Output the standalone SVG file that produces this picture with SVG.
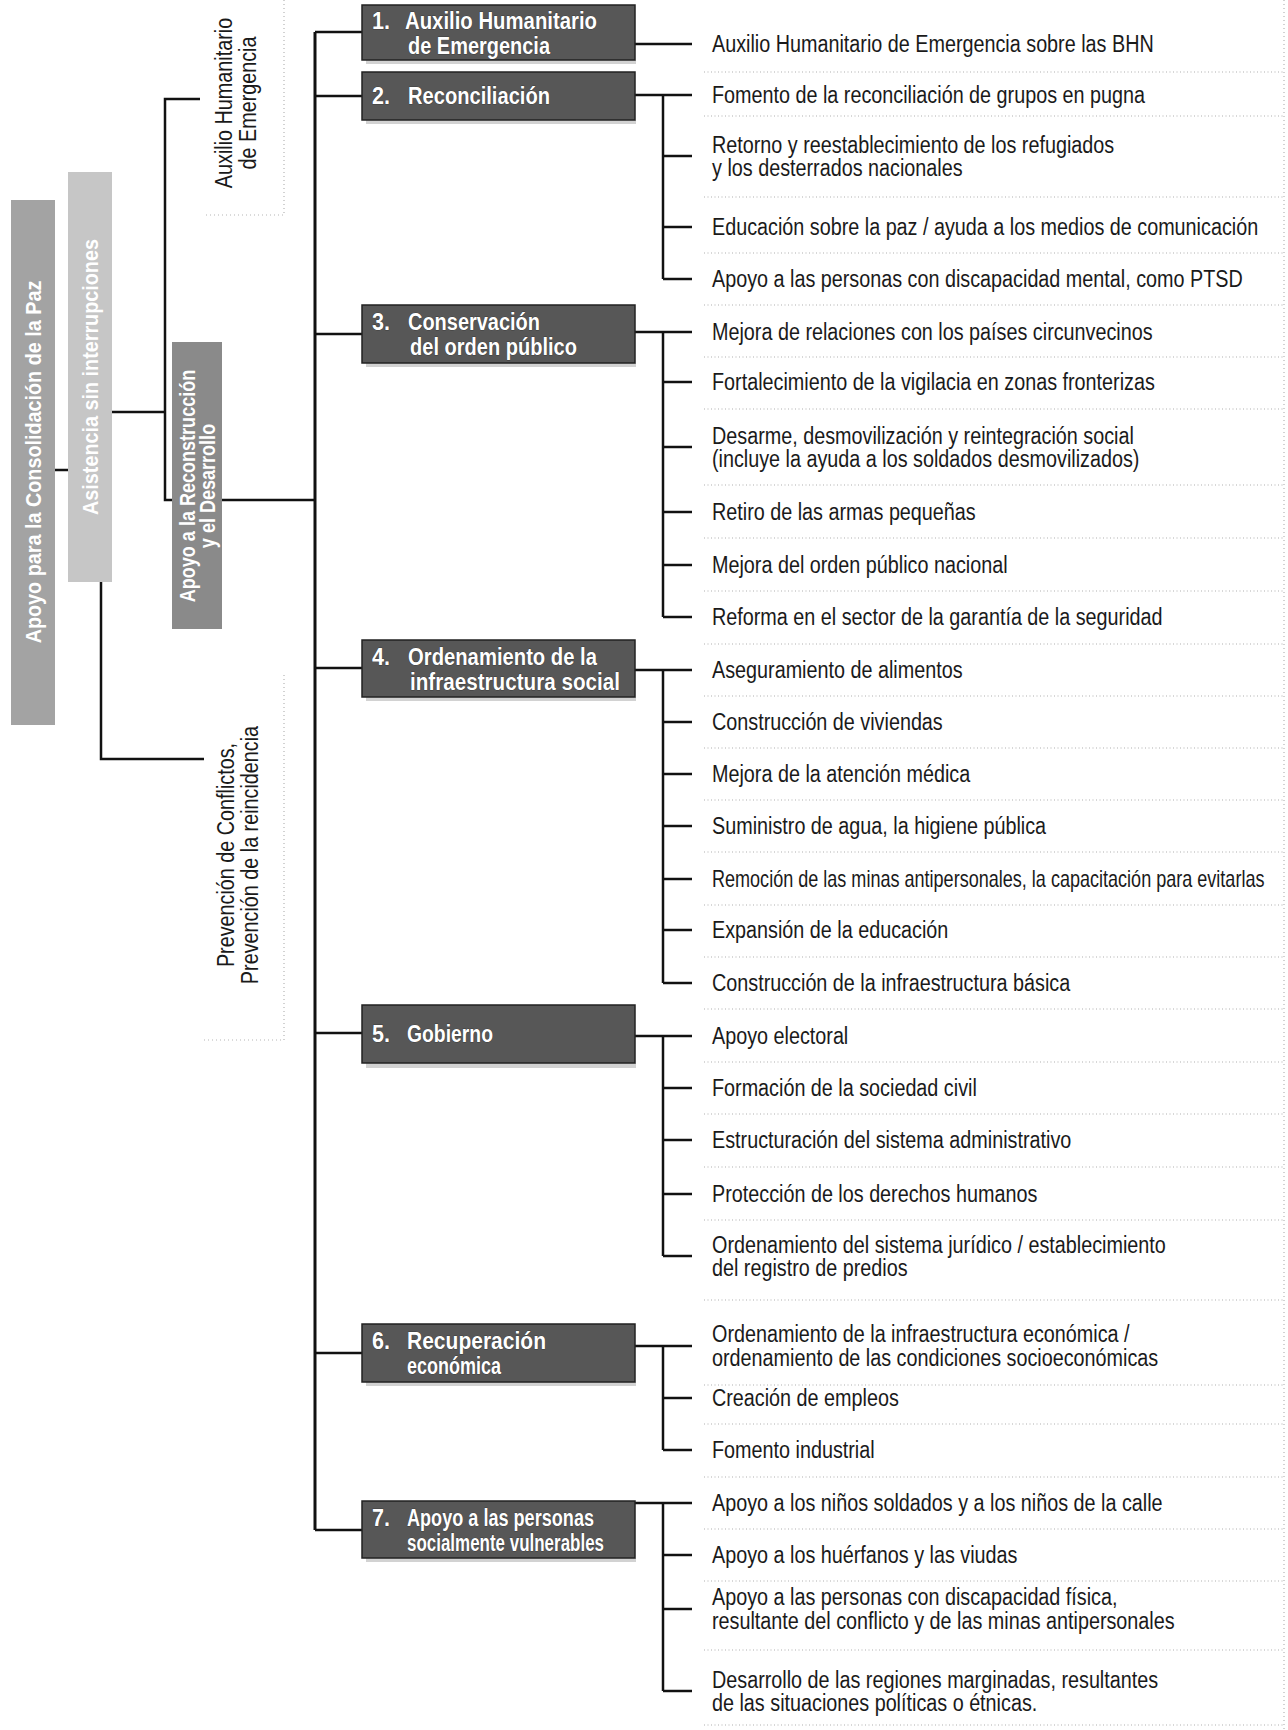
<svg xmlns="http://www.w3.org/2000/svg" width="1288" height="1730" viewBox="0 0 1288 1730">
<style>
.ln{stroke:#111;stroke-width:2.5;fill:none}
.sep{stroke:#b0b0b0;stroke-width:1.2;stroke-dasharray:1 2.5;fill:none}
.dot{stroke:#b5b5b5;stroke-width:1.2;stroke-dasharray:1 3;fill:none}
.bx{fill:#575757;stroke:#222;stroke-width:1.5}
.sh{fill:#d2d2d2}
.ht{font-family:"Liberation Sans",Arial,sans-serif;font-weight:bold;font-size:23px;fill:#fff;stroke:#222;stroke-width:0.6;paint-order:stroke}
.it{font-family:"Liberation Sans",Arial,sans-serif;font-size:23px;fill:#1a1a1a}
.gt{font-family:"Liberation Sans",Arial,sans-serif;font-weight:bold;font-size:22px;fill:#fff;text-anchor:middle}
</style>

<g id="page-marks">
<line class="dot" x1="1284" y1="0" x2="1284" y2="1730"/>
<line class="sep" x1="704" y1="72" x2="1284" y2="72"/>
<line class="sep" x1="704" y1="116" x2="1284" y2="116"/>
<line class="sep" x1="704" y1="197" x2="1284" y2="197"/>
<line class="sep" x1="704" y1="253" x2="1284" y2="253"/>
<line class="sep" x1="704" y1="305" x2="1284" y2="305"/>
<line class="sep" x1="704" y1="357" x2="1284" y2="357"/>
<line class="sep" x1="704" y1="409" x2="1284" y2="409"/>
<line class="sep" x1="704" y1="485" x2="1284" y2="485"/>
<line class="sep" x1="704" y1="538" x2="1284" y2="538"/>
<line class="sep" x1="704" y1="591" x2="1284" y2="591"/>
<line class="sep" x1="704" y1="644" x2="1284" y2="644"/>
<line class="sep" x1="704" y1="696" x2="1284" y2="696"/>
<line class="sep" x1="704" y1="748" x2="1284" y2="748"/>
<line class="sep" x1="704" y1="800" x2="1284" y2="800"/>
<line class="sep" x1="704" y1="852" x2="1284" y2="852"/>
<line class="sep" x1="704" y1="905" x2="1284" y2="905"/>
<line class="sep" x1="704" y1="957" x2="1284" y2="957"/>
<line class="sep" x1="704" y1="1009" x2="1284" y2="1009"/>
<line class="sep" x1="704" y1="1062" x2="1284" y2="1062"/>
<line class="sep" x1="704" y1="1114" x2="1284" y2="1114"/>
<line class="sep" x1="704" y1="1167" x2="1284" y2="1167"/>
<line class="sep" x1="704" y1="1220" x2="1284" y2="1220"/>
<line class="sep" x1="704" y1="1300" x2="1284" y2="1300"/>
<line class="sep" x1="704" y1="1385" x2="1284" y2="1385"/>
<line class="sep" x1="704" y1="1424" x2="1284" y2="1424"/>
<line class="sep" x1="704" y1="1477" x2="1284" y2="1477"/>
<line class="sep" x1="704" y1="1529" x2="1284" y2="1529"/>
<line class="sep" x1="704" y1="1581" x2="1284" y2="1581"/>
<line class="sep" x1="704" y1="1650" x2="1284" y2="1650"/>
<line class="sep" x1="704" y1="1725" x2="1284" y2="1725"/>
<polyline class="dot" points="284,0 284,215 204,215"/>
<polyline class="dot" points="284,675 284,1040 204,1040"/>
</g>

<g id="connectors">
<line class="ln" x1="55" y1="470" x2="68" y2="470"/>
<line class="ln" x1="112" y1="412" x2="165" y2="412"/>
<polyline class="ln" points="200,99 165,99 165,500 172,500"/>
<line class="ln" x1="222" y1="500" x2="315" y2="500"/>
<polyline class="ln" points="101,582 101,759 204,759"/>
<line class="ln" x1="315" y1="32" x2="315" y2="1530" style="stroke-width:3"/>
<line class="ln" x1="315" y1="32" x2="362" y2="32"/>
<line class="ln" x1="315" y1="96" x2="362" y2="96"/>
<line class="ln" x1="315" y1="334" x2="362" y2="334"/>
<line class="ln" x1="315" y1="668" x2="362" y2="668"/>
<line class="ln" x1="315" y1="1033" x2="362" y2="1033"/>
<line class="ln" x1="315" y1="1353" x2="362" y2="1353"/>
<line class="ln" x1="315" y1="1530" x2="362" y2="1530"/>
<line class="ln" x1="635" y1="44" x2="692" y2="44"/>
<line class="ln" x1="635" y1="95" x2="692" y2="95"/>
<line class="ln" x1="663" y1="95" x2="663" y2="279"/>
<line class="ln" x1="663" y1="156" x2="692" y2="156"/>
<line class="ln" x1="663" y1="227" x2="692" y2="227"/>
<line class="ln" x1="663" y1="279" x2="692" y2="279"/>
<line class="ln" x1="635" y1="332" x2="692" y2="332"/>
<line class="ln" x1="663" y1="332" x2="663" y2="617"/>
<line class="ln" x1="663" y1="382" x2="692" y2="382"/>
<line class="ln" x1="663" y1="447" x2="692" y2="447"/>
<line class="ln" x1="663" y1="512" x2="692" y2="512"/>
<line class="ln" x1="663" y1="565" x2="692" y2="565"/>
<line class="ln" x1="663" y1="617" x2="692" y2="617"/>
<line class="ln" x1="635" y1="670" x2="692" y2="670"/>
<line class="ln" x1="663" y1="670" x2="663" y2="983"/>
<line class="ln" x1="663" y1="722" x2="692" y2="722"/>
<line class="ln" x1="663" y1="774" x2="692" y2="774"/>
<line class="ln" x1="663" y1="826" x2="692" y2="826"/>
<line class="ln" x1="663" y1="879" x2="692" y2="879"/>
<line class="ln" x1="663" y1="930" x2="692" y2="930"/>
<line class="ln" x1="663" y1="983" x2="692" y2="983"/>
<line class="ln" x1="635" y1="1036" x2="692" y2="1036"/>
<line class="ln" x1="663" y1="1036" x2="663" y2="1256"/>
<line class="ln" x1="663" y1="1088" x2="692" y2="1088"/>
<line class="ln" x1="663" y1="1140" x2="692" y2="1140"/>
<line class="ln" x1="663" y1="1194" x2="692" y2="1194"/>
<line class="ln" x1="663" y1="1256" x2="692" y2="1256"/>
<line class="ln" x1="635" y1="1346" x2="692" y2="1346"/>
<line class="ln" x1="663" y1="1346" x2="663" y2="1450"/>
<line class="ln" x1="663" y1="1398" x2="692" y2="1398"/>
<line class="ln" x1="663" y1="1450" x2="692" y2="1450"/>
<line class="ln" x1="635" y1="1503" x2="692" y2="1503"/>
<line class="ln" x1="663" y1="1503" x2="663" y2="1691"/>
<line class="ln" x1="663" y1="1555" x2="692" y2="1555"/>
<line class="ln" x1="663" y1="1609" x2="692" y2="1609"/>
<line class="ln" x1="663" y1="1691" x2="692" y2="1691"/>
</g>

<g id="root">
<rect x="11" y="200" width="44" height="525" fill="#a3a3a3"/>
<text class="gt" transform="translate(41,462) rotate(-90) scale(0.9,1)">Apoyo para la Consolidación de la Paz</text>
</g>
<g id="stage">
<rect x="68" y="172" width="44" height="410" fill="#c6c6c6"/>
<text class="gt" transform="translate(98,377) rotate(-90) scale(0.9,1)">Asistencia sin interrupciones</text>
</g>
<g id="cat-auxilio">
<text class="it" text-anchor="middle" transform="translate(232,103) rotate(-90) scale(0.86,1)">Auxilio Humanitario</text>
<text class="it" text-anchor="middle" transform="translate(256,103) rotate(-90) scale(0.86,1)">de Emergencia</text>
</g>
<g id="cat-reconstruccion">
<rect x="172" y="342" width="50" height="287" fill="#8a8a8a"/>
<text class="gt" transform="translate(195,486) rotate(-90) scale(0.82,1)">Apoyo a la Reconstrucción</text>
<text class="gt" transform="translate(215,486) rotate(-90) scale(0.82,1)">y el Desarrollo</text>
</g>
<g id="cat-prevencion">
<text class="it" text-anchor="middle" transform="translate(234,855) rotate(-90) scale(0.86,1)">Prevención de Conflictos,</text>
<text class="it" text-anchor="middle" transform="translate(258,855) rotate(-90) scale(0.86,1)">Prevención de la reincidencia</text>
</g>

<g id="box1">
<rect class="sh" x="366" y="60" width="270" height="4"/>
<rect class="bx" x="362" y="5" width="273" height="55"/>
<text class="ht" x="372" y="29" textLength="18" lengthAdjust="spacingAndGlyphs">1.</text>
<text class="ht" x="405" y="29" textLength="192" lengthAdjust="spacingAndGlyphs">Auxilio Humanitario</text>
<text class="ht" x="408" y="54" textLength="142" lengthAdjust="spacingAndGlyphs">de Emergencia</text>
</g>
<g id="box2">
<rect class="sh" x="366" y="120" width="270" height="4"/>
<rect class="bx" x="362" y="72" width="273" height="48"/>
<text class="ht" x="372" y="104" textLength="18" lengthAdjust="spacingAndGlyphs">2.</text>
<text class="ht" x="408" y="104" textLength="142" lengthAdjust="spacingAndGlyphs">Reconciliación</text>
</g>
<g id="box3">
<rect class="sh" x="366" y="363" width="270" height="4"/>
<rect class="bx" x="362" y="305" width="273" height="58"/>
<text class="ht" x="372" y="330" textLength="18" lengthAdjust="spacingAndGlyphs">3.</text>
<text class="ht" x="408" y="330" textLength="132" lengthAdjust="spacingAndGlyphs">Conservación</text>
<text class="ht" x="410" y="355" textLength="167" lengthAdjust="spacingAndGlyphs">del orden público</text>
</g>
<g id="box4">
<rect class="sh" x="366" y="697" width="270" height="4"/>
<rect class="bx" x="362" y="640" width="273" height="57"/>
<text class="ht" x="372" y="665" textLength="18" lengthAdjust="spacingAndGlyphs">4.</text>
<text class="ht" x="408" y="665" textLength="189" lengthAdjust="spacingAndGlyphs">Ordenamiento de la</text>
<text class="ht" x="410" y="690" textLength="210" lengthAdjust="spacingAndGlyphs">infraestructura social</text>
</g>
<g id="box5">
<rect class="sh" x="366" y="1063" width="270" height="5"/>
<rect class="bx" x="362" y="1005" width="273" height="58"/>
<text class="ht" x="372" y="1042" textLength="18" lengthAdjust="spacingAndGlyphs">5.</text>
<text class="ht" x="407" y="1042" textLength="86" lengthAdjust="spacingAndGlyphs">Gobierno</text>
</g>
<g id="box6">
<rect class="sh" x="366" y="1382" width="270" height="4"/>
<rect class="bx" x="362" y="1324" width="273" height="58"/>
<text class="ht" x="372" y="1349" textLength="18" lengthAdjust="spacingAndGlyphs">6.</text>
<text class="ht" x="407" y="1349" textLength="139" lengthAdjust="spacingAndGlyphs">Recuperación</text>
<text class="ht" x="407" y="1374" textLength="94" lengthAdjust="spacingAndGlyphs">económica</text>
</g>
<g id="box7">
<rect class="sh" x="366" y="1558" width="270" height="4"/>
<rect class="bx" x="362" y="1501" width="273" height="57"/>
<text class="ht" x="372" y="1526" textLength="18" lengthAdjust="spacingAndGlyphs">7.</text>
<text class="ht" x="407" y="1526" textLength="187" lengthAdjust="spacingAndGlyphs">Apoyo a las personas</text>
<text class="ht" x="407" y="1551" textLength="197" lengthAdjust="spacingAndGlyphs">socialmente vulnerables</text>
</g>

<g id="items">
<text class="it" transform="matrix(0.86 0 0 1 712 52)">Auxilio Humanitario de Emergencia sobre las BHN</text>
<text class="it" transform="matrix(0.86 0 0 1 712 103)">Fomento de la reconciliación de grupos en pugna</text>
<text class="it" transform="matrix(0.86 0 0 1 712 153)">Retorno y reestablecimiento de los refugiados</text>
<text class="it" transform="matrix(0.86 0 0 1 712 176)">y los desterrados nacionales</text>
<text class="it" transform="matrix(0.86 0 0 1 712 235)">Educación sobre la paz / ayuda a los medios de comunicación</text>
<text class="it" transform="matrix(0.86 0 0 1 712 287)">Apoyo a las personas con discapacidad mental, como PTSD</text>
<text class="it" transform="matrix(0.86 0 0 1 712 340)">Mejora de relaciones con los países circunvecinos</text>
<text class="it" transform="matrix(0.86 0 0 1 712 390)">Fortalecimiento de la vigilacia en zonas fronterizas</text>
<text class="it" transform="matrix(0.86 0 0 1 712 444)">Desarme, desmovilización y reintegración social</text>
<text class="it" transform="matrix(0.86 0 0 1 712 467)">(incluye la ayuda a los soldados desmovilizados)</text>
<text class="it" transform="matrix(0.86 0 0 1 712 520)">Retiro de las armas pequeñas</text>
<text class="it" transform="matrix(0.86 0 0 1 712 573)">Mejora del orden público nacional</text>
<text class="it" transform="matrix(0.86 0 0 1 712 625)">Reforma en el sector de la garantía de la seguridad</text>
<text class="it" transform="matrix(0.86 0 0 1 712 678)">Aseguramiento de alimentos</text>
<text class="it" transform="matrix(0.86 0 0 1 712 730)">Construcción de viviendas</text>
<text class="it" transform="matrix(0.86 0 0 1 712 782)">Mejora de la atención médica</text>
<text class="it" transform="matrix(0.86 0 0 1 712 834)">Suministro de agua, la higiene pública</text>
<text class="it" transform="matrix(0.785 0 0 1 712 887)">Remoción de las minas antipersonales, la capacitación para evitarlas</text>
<text class="it" transform="matrix(0.86 0 0 1 712 938)">Expansión de la educación</text>
<text class="it" transform="matrix(0.86 0 0 1 712 991)">Construcción de la infraestructura básica</text>
<text class="it" transform="matrix(0.86 0 0 1 712 1044)">Apoyo electoral</text>
<text class="it" transform="matrix(0.86 0 0 1 712 1096)">Formación de la sociedad civil</text>
<text class="it" transform="matrix(0.86 0 0 1 712 1148)">Estructuración del sistema administrativo</text>
<text class="it" transform="matrix(0.86 0 0 1 712 1202)">Protección de los derechos humanos</text>
<text class="it" transform="matrix(0.86 0 0 1 712 1253)">Ordenamiento del sistema jurídico / establecimiento</text>
<text class="it" transform="matrix(0.86 0 0 1 712 1276)">del registro de predios</text>
<text class="it" transform="matrix(0.86 0 0 1 712 1342)">Ordenamiento de la infraestructura económica /</text>
<text class="it" transform="matrix(0.86 0 0 1 712 1366)">ordenamiento de las condiciones socioeconómicas</text>
<text class="it" transform="matrix(0.86 0 0 1 712 1406)">Creación de empleos</text>
<text class="it" transform="matrix(0.86 0 0 1 712 1458)">Fomento industrial</text>
<text class="it" transform="matrix(0.86 0 0 1 712 1511)">Apoyo a los niños soldados y a los niños de la calle</text>
<text class="it" transform="matrix(0.86 0 0 1 712 1563)">Apoyo a los huérfanos y las viudas</text>
<text class="it" transform="matrix(0.86 0 0 1 712 1605)">Apoyo a las personas con discapacidad física,</text>
<text class="it" transform="matrix(0.86 0 0 1 712 1629)">resultante del conflicto y de las minas antipersonales</text>
<text class="it" transform="matrix(0.86 0 0 1 712 1688)">Desarrollo de las regiones marginadas, resultantes</text>
<text class="it" transform="matrix(0.86 0 0 1 712 1711)">de las situaciones políticas o étnicas.</text>
</g>
</svg>
